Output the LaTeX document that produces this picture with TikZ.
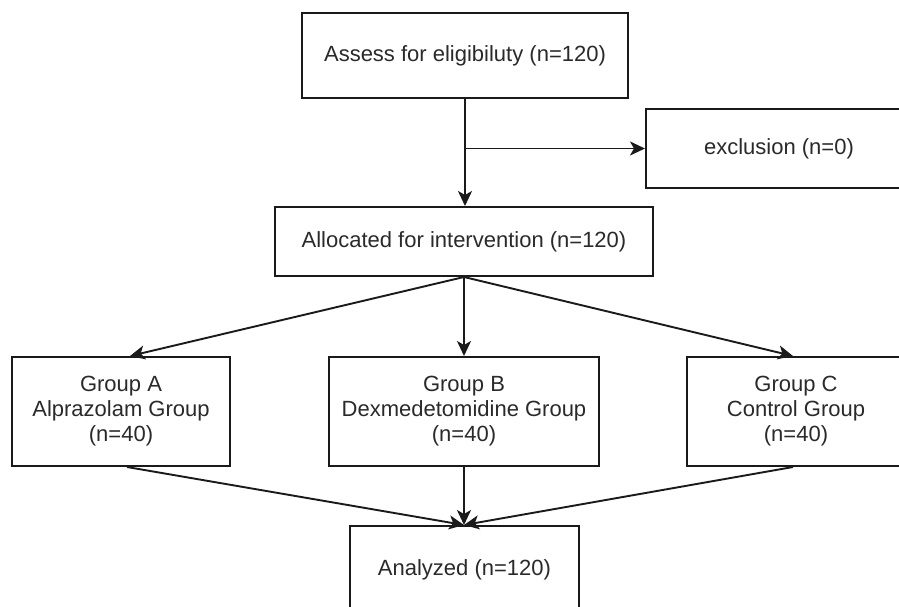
\documentclass[tikz,border=0pt]{standalone}
\usepackage{fontspec}
\setmainfont{Liberation Sans}
\usetikzlibrary{arrows.meta,calc}
\definecolor{txt}{HTML}{2A2A2A}
\definecolor{ln}{HTML}{1A1A1A}
\tikzset{
  box/.style={draw=ln, line width=2pt, fill=white, rectangle, inner sep=0pt,
    align=center, text=txt, font=\fontsize{22}{25}\selectfont},
  conn/.style={draw=ln, line width=1.9pt, -{Stealth[length=15pt,width=14pt,inset=4pt]}},
}
\begin{document}
\begin{tikzpicture}[x=1pt,y=-1pt]
\useasboundingbox (0,0) rectangle (899,607);
\clip (0,0) rectangle (899,607);
\fill[white] (0,0) rectangle (899,607);
% boxes
\node[box, minimum width=326pt, minimum height=85pt] (assess) at (465,55.5) {Assess for eligibiluty (n=120)};
\node[box, minimum width=266pt, minimum height=79pt] (excl) at (779,148.5) {exclusion (n=0)};
\node[box, minimum width=378pt, minimum height=69pt] (alloc) at (464,241.5) {Allocated for intervention (n=120)};
\node[box, minimum width=218pt, minimum height=109pt] (ga) at (121,411.5) {Group A\\Alprazolam Group\\(n=40)};
\node[box, minimum width=270pt, minimum height=109pt] (gb) at (464,411.5) {Group B\\Dexmedetomidine Group\\(n=40)};
\node[box, minimum width=218pt, minimum height=109pt] (gc) at (796,411.5) {Group C\\Control Group\\(n=40)};
\node[box, minimum width=229pt, minimum height=88pt] (an) at (464.5,570) {Analyzed (n=120)};
% connectors
\coordinate (split) at (assess.south |- excl.west);
\draw[conn] (assess.south) -- (assess.south |- alloc.north);
\draw[conn] (split) -- (excl.west);
\coordinate (allocbot) at (alloc.south);
\draw[conn] (allocbot) -- ($(ga.north)+(9,0)$);
\draw[conn] (allocbot) -- (gb.north);
\draw[conn] (allocbot) -- ($(gc.north)+(-3,0)$);
\coordinate (antop) at (gb.south |- an.north);
\draw[conn] ($(ga.south)+(6,0)$) -- (antop);
\draw[conn] (gb.south) -- (antop);
\draw[conn] ($(gc.south)+(-3,0)$) -- (antop);
\end{tikzpicture}
\end{document}
